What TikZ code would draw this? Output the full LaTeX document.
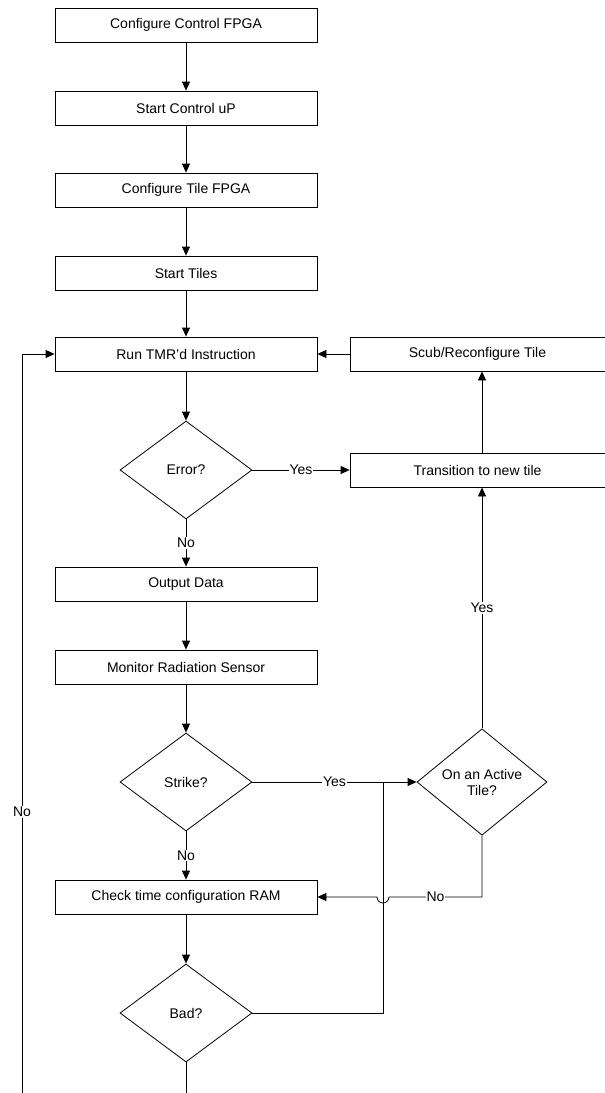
\documentclass[tikz,border=0pt]{standalone}
\usepackage{fontspec}
\setmainfont{Liberation Sans}
\usetikzlibrary{shapes.geometric, arrows.meta}

\begin{document}
\begin{tikzpicture}[
    >={Triangle[length=9pt, width=8pt]},
    every node/.style={font=\fontsize{14}{16}\selectfont},
    stepbox/.style={draw, thick, minimum width=262, minimum height=34, inner sep=0pt},
    sidebox/.style={draw, thick, minimum width=255, minimum height=34, inner sep=0pt},
    check/.style={draw, thick, diamond, minimum width=132, minimum height=98, inner sep=0pt, align=center},
    lbl/.style={fill=white, inner sep=1pt},
    every path/.append style={thick},
    x=1pt,
    y=-1pt
]
    \useasboundingbox (0,0) rectangle (605,1093);

    \node[stepbox] (cfgctl) at (186,25) {Configure Control FPGA};
    \node[stepbox] (startup) at (186,108) {Start Control uP};
    \node[stepbox] (cfgtile) at (186,190) {Configure Tile FPGA};
    \node[stepbox] (starttiles) at (186,273) {Start Tiles};
    \node[stepbox] (run) at (186,354) {Run TMR’d Instruction};
    \node[check] (error) at (186,470) {Error?};
    \node[stepbox] (output) at (186,584) {Output Data};
    \node[stepbox] (monitor) at (186,667) {Monitor Radiation Sensor};
    \node[check] (strike) at (186,782) {Strike?};
    \node[stepbox] (checkram) at (186,897) {Check time configuration RAM};
    \node[check] (bad) at (186,1013) {Bad?};

    \node[sidebox] (scrub) at (477.5,354) {Scub/Reconfigure Tile};
    \node[sidebox] (trans) at (477.5,470) {Transition to new tile};
    \node[check, minimum width=130] (ontile) at (482,782) {On an Active\\Tile?};

    \coordinate (joint) at (383,782);
    \coordinate (hopR) at (389,897);
    \coordinate (badout) at (186,1093);
    \coordinate (loopbot) at (22,1093);

    % main column
    \draw[->] (cfgctl) -- (startup);
    \draw[->] (startup) -- (cfgtile);
    \draw[->] (cfgtile) -- (starttiles);
    \draw[->] (starttiles) -- (run);
    \draw[->] (run) -- (error);
    \draw[->] (error) -- node[lbl]{No} (output);
    \draw[->] (output) -- (monitor);
    \draw[->] (monitor) -- (strike);
    \draw[->] (strike) -- node[lbl]{No} (checkram);
    \draw[->] (checkram) -- (bad);
    \draw (bad) -- (badout);

    % error branch
    \draw[->] (error) -- node[lbl]{Yes} (trans);
    \draw[->] (trans.north -| ontile) -- (scrub.south -| ontile);
    \draw[->] (scrub) -- (run);

    % strike branch
    \draw[->] (strike) -- node[lbl]{Yes} (ontile);
    \draw (bad.east) -| (joint);
    \draw[->] (ontile.north) -- node[lbl]{Yes} (trans.south -| ontile);
    \draw[->] (ontile.south) |- node[lbl, pos=0.75]{No} (hopR)
        arc[start angle=0, end angle=180, radius=6] -- (checkram.east);

    % loop back
    \draw[->] (loopbot) |- node[lbl, pos=0.19]{No} (run.west);
\end{tikzpicture}
\end{document}
